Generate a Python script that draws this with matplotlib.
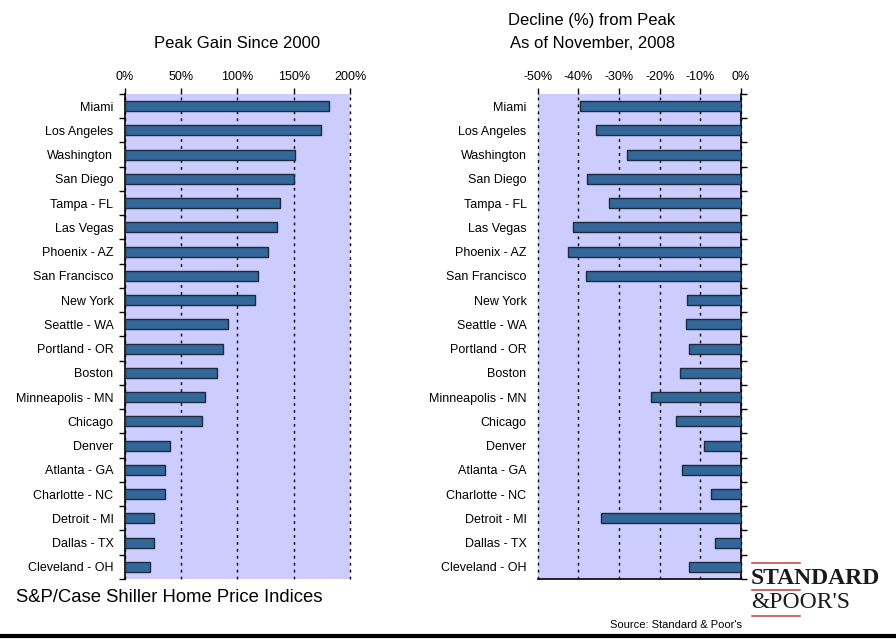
import numpy as np
import matplotlib
matplotlib.use("Agg")
import matplotlib.pyplot as plt
from matplotlib.lines import Line2D

plt.rcParams['font.family'] = ['Liberation Sans', 'DejaVu Sans']

cities = ["Miami", "Los Angeles", "Washington", "San Diego", "Tampa - FL",
          "Las Vegas", "Phoenix - AZ", "San Francisco", "New York", "Seattle - WA",
          "Portland - OR", "Boston", "Minneapolis - MN", "Chicago", "Denver",
          "Atlanta - GA", "Charlotte - NC", "Detroit - MI", "Dallas - TX",
          "Cleveland - OH"]
peak_gain = [181, 174, 151, 150, 138, 135, 127, 118, 116, 92,
             87, 82, 71, 69, 40, 36, 36, 26, 26, 23]
decline = [-39.6, -35.7, -28.1, -37.8, -32.5, -41.2, -42.6, -38.0, -13.4, -13.5,
           -12.9, -14.9, -22.1, -16.1, -9.0, -14.4, -7.5, -34.4, -6.4, -12.9]
gain_ticks = [0, 50, 100, 150, 200]
decline_ticks = [-50, -40, -30, -20, -10, 0]

BG = "#CCCCFF"
BAR = "#336699"
EDGE = "#1c2a3a"

fig = plt.figure(figsize=(8.96, 6.39), dpi=100, facecolor="white")
W, H = 896, 639


def box(x0, y0, x1, y1):
    return [x0 / W, 1 - y1 / H, (x1 - x0) / W, (y1 - y0) / H]


y = np.arange(len(cities))


def style(ax, ticks):
    ax.set_facecolor(BG)
    ax.set_ylim(len(cities) - 0.5, -0.5)
    ax.set_yticks(y)
    ax.set_yticklabels(cities, fontsize=9)
    ax.set_yticks(np.arange(len(cities) + 1) - 0.5, minor=True)
    ax.tick_params(axis="y", which="major", length=0, pad=8)
    ax.set_xticks(ticks)
    ax.set_xticklabels([f"{t}%" for t in ticks], fontsize=9)
    ax.xaxis.tick_top()
    ax.tick_params(axis="x", which="major", length=4, width=1, color="black", pad=4)
    ax.set_xlim(ticks[0], ticks[-1])
    for t in ticks:
        ax.axvline(t, color="black", linestyle=(0, (2, 3)), linewidth=1,
                   zorder=1, clip_on=False)
    ax.spines["top"].set_visible(False)


# left chart
ax1 = fig.add_axes(box(124.5, 94, 350, 579))
ax1.barh(y, peak_gain, height=0.42, color=BAR, edgecolor=EDGE, linewidth=1, zorder=3)
style(ax1, gain_ticks)
ax1.tick_params(axis="y", which="minor", length=4, left=True, right=False, width=1)
ax1.spines["right"].set_visible(False)
ax1.spines["bottom"].set_visible(False)
ax1.spines["left"].set_linewidth(1.2)

# right chart
ax2 = fig.add_axes(box(537.7, 94, 741, 579))
ax2.barh(y, decline, height=0.42, color=BAR, edgecolor=EDGE, linewidth=1, zorder=3)
style(ax2, decline_ticks)
ax2.tick_params(axis="y", which="minor", length=4, left=False, right=True, width=1)
ax2.spines["left"].set_visible(False)
ax2.spines["right"].set_linewidth(1.2)
ax2.spines["bottom"].set_linewidth(1.2)

# titles
fig.text(237 / W, 1 - 44 / H, "Peak Gain Since 2000", fontsize=12, ha="center", va="center")
fig.text(592 / W, 1 - 20 / H, "Decline (%) from Peak", fontsize=12, ha="center", va="center")
fig.text(592 / W, 1 - 44 / H, "As of November, 2008", fontsize=12, ha="center", va="center")

fig.text(16 / W, 1 - 597 / H, "S&P/Case Shiller Home Price Indices", fontsize=13.3,
         ha="left", va="center")
fig.text(742 / W, 1 - 625 / H, "Source: Standard & Poor's", fontsize=8,
         ha="right", va="center")

# logo
fig.text(751 / W, 1 - 578 / H, "STANDARD", fontsize=17, fontweight="bold",
         family="Liberation Serif", color="#1a1a1a", ha="left", va="center")
fig.text(751 / W, 1 - 603 / H, "&POOR'S", fontsize=17,
         family="Liberation Serif", color="#1a1a1a", ha="left", va="center")
for yy in (563, 590, 616):
    fig.add_artist(Line2D([752 / W, 800 / W], [1 - yy / H, 1 - yy / H],
                          color="#c0504d", linewidth=1.2))

# bottom rule
fig.add_artist(Line2D([0, 1], [1 - 636 / H, 1 - 636 / H], color="black", linewidth=3))

fig.savefig("out.png", dpi=100, facecolor="white")
